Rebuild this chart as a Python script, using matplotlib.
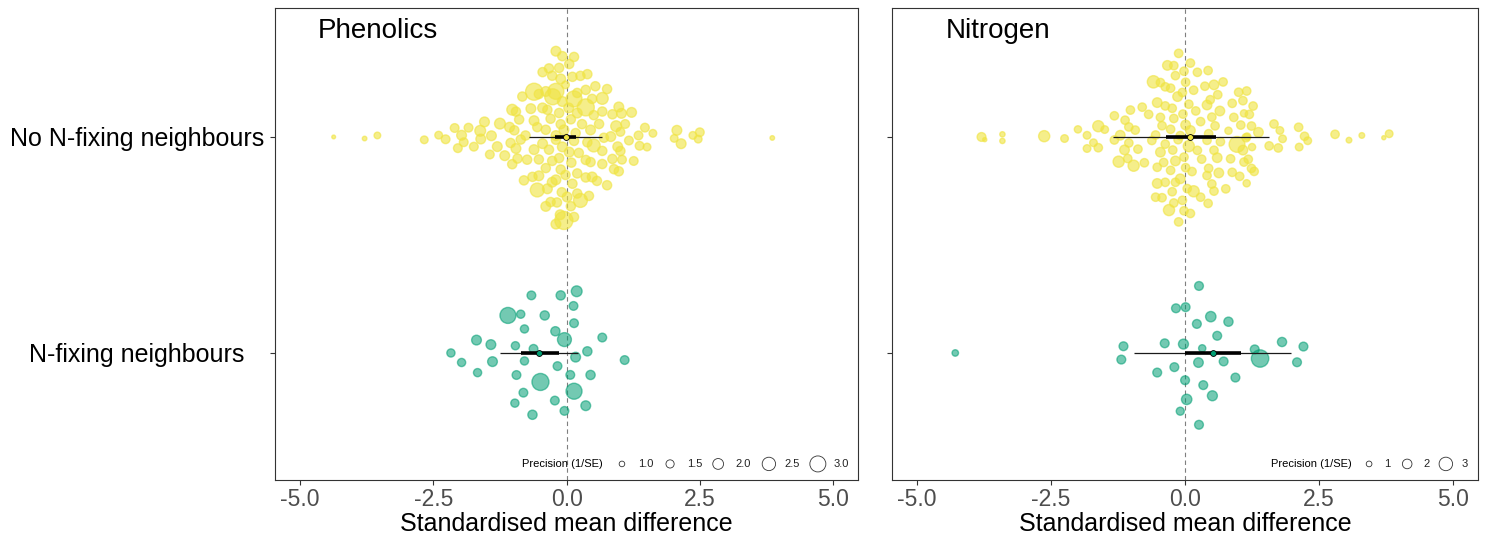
import numpy as np
import matplotlib
matplotlib.use("Agg")
import matplotlib.pyplot as plt

# effect sizes (SMD) and precision (1/SE)
phen_none_x = [
    -4.37, -3.79, -3.55, -2.67, -2.40, -2.27, -2.10, -2.04, -1.97, -1.93, -1.84, -1.74,
    -1.62, -1.61, -1.54, -1.44, -1.41, -1.30, -1.25, -1.16, -1.07, -1.02, -0.95,
    0.93, 0.96, 0.98, 1.03, 1.17, 1.22, 1.26, 1.35, 1.37, 1.47, 1.51, 1.62,
    2.02, 2.07, 2.15, 2.37, 2.47, 2.50, 3.86,
    -0.05, -0.09, 0.09, -0.26, -0.12, 0.14, 0.01, -0.08, 0.04, 0.20, 0.39,
    -0.39, -0.52, -0.30, 0.36, 0.51, 0.67, -0.61, -0.45, -0.20, 0.14, 0.23,
    -0.83, -0.67, -0.55, -0.45, -0.20, -0.11, 0.14, 0.36, 0.54, 0.67, 0.83, 0.98,
    -0.92, -1.02, -0.98, -1.05, -0.86, -0.77, -0.61, -0.52, -0.39, -0.27, -0.14,
    0.11, 0.20, 0.39, 0.48, 0.67, 0.76, 0.89, 1.04, 1.10,
    -0.95, -0.80, -0.64, -0.45, -0.33, -0.20, -0.14, 0.11, 0.26, 0.45, 0.61, 0.76, 0.86, 1.01,
    -0.89, -0.74, -0.55, -0.39, -0.27, -0.11, 0.08, 0.20, 0.36, 0.51, 0.67, 0.86, 1.01,
    -0.61, -0.39, -0.20, -0.05, 0.14, 0.29, 0.45, 0.57, 0.70,
    -0.52, -0.36, -0.11, 0.05, 0.20, 0.36, 0.48,
    -0.27, -0.08, 0.08, 0.26, 0.42, -0.33, -0.18, -0.02, 0.17,
    -0.30, -0.14, 0.05, -0.36, -0.20, -0.08, -0.20, -0.02,
]
phen_none_prec = [
    0.65, 0.8, 1.2, 1.4, 1.4, 1.6, 1.6, 1.6, 1.8, 1.6, 1.6, 1.6,
    2.0, 1.8, 1.8, 1.6, 1.8, 1.8, 2.0, 1.8, 1.8, 2.0, 1.8,
    2.0, 1.8, 1.8, 1.8, 1.6, 1.8, 1.6, 1.6, 1.6, 1.6, 1.4, 1.4,
    1.4, 1.8, 1.8, 1.4, 1.4, 1.6, 0.8,
    3.4, 1.7, 1.7, 3.0, 1.8, 3.0, 1.8, 1.8, 1.8, 1.7, 1.7,
    1.8, 1.7, 1.7, 1.7, 1.7, 1.7, 1.8, 1.8, 1.7, 1.7, 1.7,
    1.7, 1.8, 2.6, 1.8, 1.8, 1.7, 1.7, 1.7, 1.7, 2.2, 1.8, 1.7,
    1.7, 1.7, 1.7, 1.7, 1.7, 1.7, 1.8, 1.7, 1.7, 1.7, 1.7,
    1.7, 1.7, 1.7, 1.7, 1.7, 1.7, 1.7, 1.6, 1.6,
    1.7, 1.7, 1.7, 1.7, 1.7, 1.8, 1.7, 1.7, 1.7, 1.8, 1.7, 1.7, 1.7, 1.6,
    1.7, 1.7, 1.7, 1.7, 1.7, 1.7, 1.7, 1.7, 1.7, 2.4, 1.7, 1.7, 1.7,
    3.2, 1.8, 1.8, 1.8, 1.7, 1.7, 1.7, 1.7, 1.7,
    1.8, 1.8, 1.8, 1.8, 1.8, 3.2, 1.8,
    1.8, 1.8, 1.7, 2.6, 1.7, 1.7, 1.7, 1.7, 1.7,
    1.7, 1.7, 1.7, 1.7, 1.8, 1.7, 3.0, 1.4,
]
phen_fix_x = [
    0.19, -0.64, -0.11, 0.13, -0.86, -1.10, 0.14, -0.79, -0.41, -0.21, -0.04, -1.69,
    -1.42, -0.96, -0.62, 0.67, -2.17, 0.39, -1.97, -1.39, -0.79, 0.17, 1.09, -0.17,
    -1.67, 0.45, -0.49, -0.94, 0.07, -0.22, -0.81, 0.14, 0.36, -0.97, -0.66, -0.04,
]
phen_fix_prec = [
    2.0, 1.7, 1.7, 1.6, 1.5, 3.0, 3.0, 1.5, 1.7, 1.7, 1.6, 1.8,
    1.8, 1.5, 1.6, 1.6, 1.5, 1.7, 1.5, 1.8, 1.5, 1.8, 1.6, 1.6,
    1.5, 1.7, 3.2, 1.6, 1.6, 1.6, 1.6, 1.6, 1.8, 1.5, 1.6, 2.6,
]

nitro_none_x = [
    -3.80, -3.74, -3.41, -3.41, -2.63, -2.25, -2.00, -1.83, -1.83, -1.71, -1.62, -1.62,
    -1.50, -1.32, -1.32, -1.24, -1.13,
    1.08, 1.14, 1.18, 1.20, 1.27, 1.29, 1.37, 1.57, 1.66, 1.74, 1.77, 1.82,
    2.12, 2.13, 2.23, 2.29, 2.80, 3.06, 3.30, 3.71, 3.81,
    -0.14, -0.23, -0.33, -0.18, -0.04, 0.07,
    -0.43, -0.59, -0.27, -0.40, -0.09, 0.01, 0.13, 0.37, 0.50, 0.61, 0.10, 0.29,
    -0.18, 0.54, 0.43, 0.88, 1.08, 1.00,
    -0.52, -0.37, -0.21, -0.05, 0.10, 0.31, 0.44, 0.60, 0.71, 0.81, 0.91, 1.04, 1.16, 1.24,
    -0.96, -1.05, -0.80, -0.68, -0.52, -0.43, -0.27, -0.21, -0.02, 0.20, 0.41, 0.54, 0.65,
    -1.21, -1.05, -0.88, -0.62, -0.37, -0.12, 0.23, 0.41, 0.66, 0.85, 1.10, 1.24,
    -1.12, -1.02, -0.76, -0.46, -0.24, 0.01, 0.16, 0.47, 0.97, 1.15, 1.25,
    -1.07, -0.93, -0.55, -0.37, -0.18, -0.05, 0.23, 0.54, 0.76, 1.02, 1.15,
    -0.46, -0.24, -0.02, 0.10, 0.29, 0.44, 0.56, 0.88,
    -0.52, -0.37, -0.12, 0.07, 0.16, 0.43, 0.63, 1.10,
    -0.55, -0.46, -0.27, 0.01, 0.50,
    0.41, -0.30, -0.21, -0.09, 0.04, -0.02, -0.13,
]
nitro_none_prec = [
    1.8, 0.6, 0.9, 0.9, 2.4, 1.5, 1.4, 1.5, 1.5, 1.5, 2.4, 1.7,
    1.5, 1.7, 1.7, 2.4, 2.0,
    2.0, 1.7, 1.7, 1.7, 1.7, 1.7, 2.0, 1.7, 1.7, 1.7, 1.5, 1.5,
    1.7, 1.5, 1.7, 1.5, 1.7, 1.0, 1.0, 0.6, 1.5,
    2.0, 1.7, 2.0, 2.0, 1.7, 1.7,
    1.7, 2.7, 1.7, 1.7, 1.7, 2.0, 1.7, 1.7, 1.7, 1.7, 1.7, 1.7,
    1.7, 1.7, 1.7, 1.7, 1.7, 1.7,
    1.7, 1.7, 1.7, 1.7, 1.7, 1.7, 1.7, 2.0, 1.7, 1.4, 1.7, 1.7, 1.4, 1.7,
    2.4, 1.7, 1.7, 1.7, 2.0, 1.7, 1.7, 1.7, 1.7, 1.7, 1.7, 2.0, 2.0,
    2.0, 1.7, 1.7, 1.7, 1.7, 1.7, 1.7, 2.0, 1.7, 1.7, 1.7, 1.7,
    1.7, 1.7, 1.7, 1.7, 1.7, 1.7, 1.7, 1.7, 3.6, 1.7, 1.4,
    1.7, 1.7, 1.7, 1.7, 1.7, 1.7, 1.7, 1.7, 1.7, 1.7, 1.4,
    2.0, 1.7, 1.7, 2.0, 1.7, 1.7, 1.7, 1.7,
    2.0, 1.7, 1.7, 2.4, 2.4, 1.7, 2.0, 1.4,
    1.7, 1.7, 1.7, 1.7, 1.7,
    1.7, 2.4, 1.7, 2.0, 1.7, 1.7, 1.7,
]
nitro_fix_x = [
    0.26, -0.17, 0.03, 0.22, 0.48, 0.81, -1.15, -0.38, -0.03, 0.32, 0.60, 1.30,
    1.81, 2.21, -4.29, -1.19, -0.52, -0.20, 0.25, 0.72, 1.40, 2.09, 0.94, 0.00,
    0.34, 0.51, 0.01, -0.09, 0.26,
]
nitro_fix_prec = [
    1.8, 1.8, 2.2, 1.8, 2.2, 1.9, 1.8, 1.8, 2.1, 1.4, 1.8, 1.8,
    1.9, 1.8, 1.2, 1.8, 1.8, 1.8, 2.0, 1.8, 4.0, 1.8, 1.8, 1.8,
    1.8, 2.1, 1.8, 1.6, 1.8,
]

groups = ["No N-fixing neighbours", "N-fixing neighbours"]
panels = ["Phenolics", "Nitrogen"]

# pooled estimate, 95% CI and prediction interval per panel / group
phen_est = [-0.02, -0.51]
phen_ci = [(-0.22, 0.17), (-0.86, -0.15)]
phen_pi = [(-0.71, 0.66), (-1.24, 0.22)]
nitro_est = [0.09, 0.52]
nitro_ci = [(-0.36, 0.58), (0.00, 1.05)]
nitro_pi = [(-1.35, 1.57), (-0.96, 1.98)]

phen_legend = [1.0, 1.5, 2.0, 2.5, 3.0]
nitro_legend = [1, 2, 3]

YELLOW = "#F0E442"
GREEN = "#009E73"
DPI = 100


def van_der_corput(n, base=2):
    out = []
    for i in range(1, n + 1):
        q, denom, v = i, 1.0, 0.0
        while q:
            denom *= base
            q, r = divmod(q, base)
            v += r / denom
        out.append(v)
    return np.array(out)


def kde(vals, at):
    vals = np.asarray(vals)
    sd = vals.std(ddof=1)
    iqr = np.subtract(*np.percentile(vals, [75, 25]))
    bw = 0.9 * min(sd, iqr / 1.34) * len(vals) ** -0.2
    return np.exp(-0.5 * ((np.asarray(at)[:, None] - vals[None, :]) / bw) ** 2).sum(axis=1)


# quasirandom offsets, like ggbeeswarm::geom_quasirandom
def quasirandom(vals, width):
    vals = np.asarray(vals)
    grid = np.linspace(vals.min() - 1, vals.max() + 1, 512)
    dens = kde(vals, vals) / kde(vals, grid).max()
    rank = np.argsort(np.argsort(vals, kind="stable"), kind="stable")
    return (van_der_corput(len(vals))[rank] - 0.5) * 2 * width * dens


def marker_area(prec, a, b):
    d_px = a + b * np.asarray(prec)
    return (d_px * 72.0 / DPI) ** 2


def draw_panel(ax, title, data, est, ci, pi, size_ab, widths, legend_vals, legend_pos):
    colors = [YELLOW, GREEN]
    alphas = [0.62, 0.55]
    rows = [2, 1]
    ax.axvline(0, color="#7f7f7f", lw=0.8, ls=(0, (4, 3)), zorder=1)
    for (xv, pv), row, col, al, w in zip(data, rows, colors, alphas, widths):
        off = quasirandom(xv, w)
        ax.scatter(xv, row + off, s=marker_area(pv, *size_ab), color=col, alpha=al,
                   edgecolors=col, linewidths=1.0, zorder=2)
    for e, c, p, row, col in zip(est, ci, pi, rows, colors):
        ax.plot(p, [row, row], color="#1a1a1a", lw=0.9, zorder=3, solid_capstyle="butt")
        ax.plot(c, [row, row], color="black", lw=2.6, zorder=4, solid_capstyle="butt")
        ax.scatter([e], [row], s=18, color=col, edgecolors="black", linewidths=0.6, zorder=5)

    ax.set_xlim(-5.47, 5.47)
    ax.set_ylim(0.412, 2.597)
    ax.set_xticks([-5, -2.5, 0, 2.5, 5])
    ax.set_xticklabels(["-5.0", "-2.5", "0.0", "2.5", "5.0"])
    ax.set_yticks(rows)
    ax.tick_params(axis="x", labelsize=16.5, labelcolor="#4d4d4d", color="#333333",
                   length=3.5, width=0.8, pad=2)
    ax.tick_params(axis="y", color="#333333", length=3.5, width=0.8)
    ax.set_xlabel("Standardised mean difference", fontsize=18, labelpad=1)
    for s in ax.spines.values():
        s.set_color("#333333")
        s.set_linewidth(0.8)
    ax.text(title[1], 0.951, title[0], transform=ax.transAxes, fontsize=20,
            ha="left", va="center")

    # precision legend along the bottom right
    tx, cxs, lxs = legend_pos
    ly = 0.034
    ax.text(tx, ly, "Precision (1/SE)", transform=ax.transAxes, fontsize=8,
            ha="right", va="center")
    for v, cx, lx in zip(legend_vals, cxs, lxs):
        ax.scatter([cx], [ly], s=marker_area([v], *size_ab), transform=ax.transAxes,
                   facecolors="none", edgecolors="#333333", linewidths=0.6, clip_on=False)
        ax.text(lx, ly, str(v), transform=ax.transAxes, fontsize=8, ha="left",
                va="center", color="#222222")


def main():
    plt.rcParams["font.family"] = ["Liberation Sans", "DejaVu Sans"]
    plt.rcParams["axes.unicode_minus"] = False
    fig = plt.figure(figsize=(14.9, 5.41), dpi=DPI)
    ax1 = fig.add_axes([0.1846, 0.1128, 0.3913, 0.8724])
    ax2 = fig.add_axes([0.5987, 0.1128, 0.3933, 0.8724])

    draw_panel(ax1, (panels[0], 0.074),
               [(phen_none_x, phen_none_prec), (phen_fix_x, phen_fix_prec)],
               phen_est, phen_ci, phen_pi, (0.4, 5.2), (0.42, 0.33), phen_legend,
               (0.5626, [0.595, 0.6775, 0.76, 0.847, 0.931],
                [0.622, 0.706, 0.79, 0.873, 0.958]))
    draw_panel(ax2, (panels[1], 0.092),
               [(nitro_none_x, nitro_none_prec), (nitro_fix_x, nitro_fix_prec)],
               nitro_est, nitro_ci, nitro_pi, (1.8, 3.9), (0.40, 0.36), nitro_legend,
               (0.785, [0.814, 0.879, 0.945], [0.840, 0.906, 0.972]))

    ax1.set_yticklabels(groups, fontsize=18)
    for lab in ax1.get_yticklabels():
        lab.set_horizontalalignment("center")
    ax1.tick_params(axis="y", pad=96)
    ax2.set_yticklabels([])

    fig.savefig("out.png", dpi=DPI)


if __name__ == "__main__":
    main()
